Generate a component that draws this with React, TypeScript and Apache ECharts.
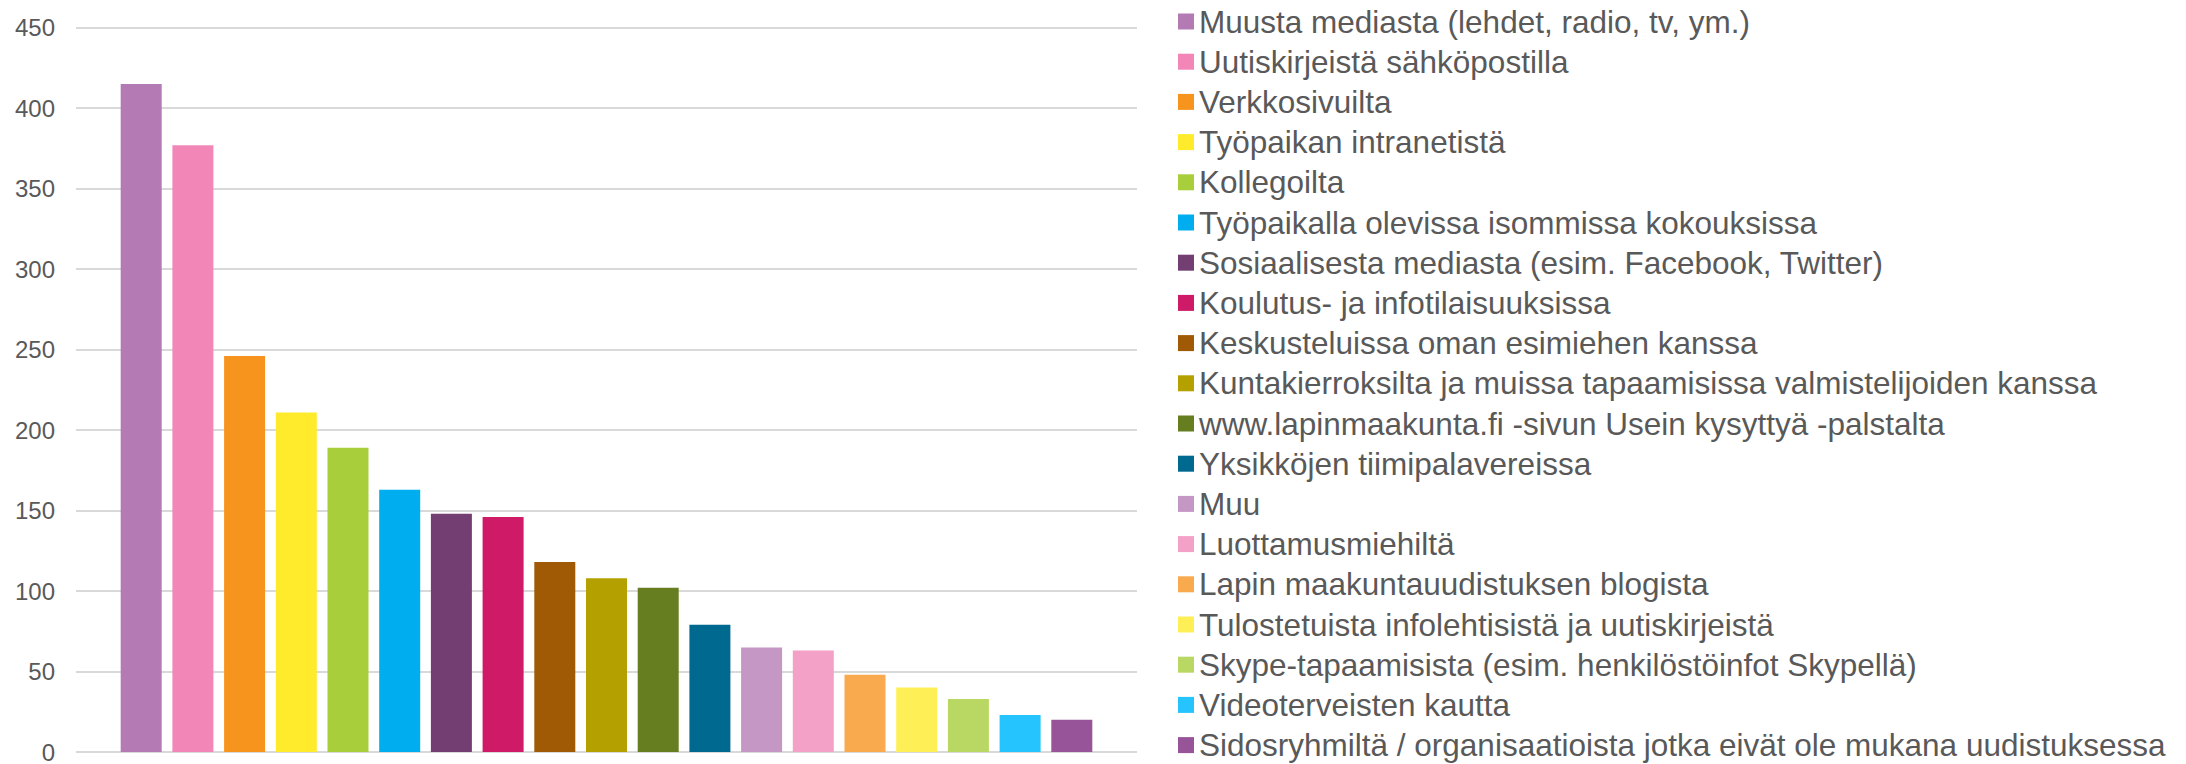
import React, { useEffect, useRef } from "react";
import * as echarts from "echarts";

const categories: string[] = [
  "Muusta mediasta (lehdet, radio, tv, ym.)",
  "Uutiskirjeistä sähköpostilla",
  "Verkkosivuilta",
  "Työpaikan intranetistä",
  "Kollegoilta",
  "Työpaikalla olevissa isommissa kokouksissa",
  "Sosiaalisesta mediasta (esim. Facebook, Twitter)",
  "Koulutus- ja infotilaisuuksissa",
  "Keskusteluissa oman esimiehen kanssa",
  "Kuntakierroksilta ja muissa tapaamisissa valmistelijoiden kanssa",
  "www.lapinmaakunta.fi -sivun Usein kysyttyä -palstalta",
  "Yksikköjen tiimipalavereissa",
  "Muu",
  "Luottamusmiehiltä",
  "Lapin maakuntauudistuksen blogista",
  "Tulostetuista infolehtisistä ja uutiskirjeistä",
  "Skype-tapaamisista (esim. henkilöstöinfot Skypellä)",
  "Videoterveisten kautta",
  "Sidosryhmiltä / organisaatioista jotka eivät ole mukana uudistuksessa",
];

const values: number[] = [415, 377, 246, 211, 189, 163, 148, 146, 118, 108, 102, 79, 65, 63, 48, 40, 33, 23, 20];

const colors: string[] = [
  "#B47AB3", "#F287B7", "#F7941E", "#FFEB2C", "#A8CE3B", "#00ADEE", "#733F73",
  "#CE1A67", "#A05A06", "#B4A100", "#667D20", "#00698F", "#C497C5", "#F4A1C7",
  "#F9A94E", "#FFEF57", "#B9D863", "#25C4FF", "#985498",
];

const yTicks = { min: 0, max: 450, interval: 50 };

const FONT = "'Liberation Sans', Arial, Helvetica, sans-serif";

export default function App() {
  const ref = useRef<HTMLDivElement>(null);
  useEffect(() => {
    if (!ref.current) return;
    const chart = echarts.init(ref.current, null, { renderer: "svg" });
    const series = categories.map((name, i) => ({
      name,
      type: "bar",
      data: [values[i]],
      barWidth: 41,
      barGap: "26.1%",
      itemStyle: { color: colors[i] },
    }));
    chart.setOption({
      animation: false,
      backgroundColor: "#ffffff",
      grid: { left: 76, right: 1049, top: 27.7, bottom: 9.5, containLabel: false },
      xAxis: {
        type: "category",
        data: [""],
        axisLine: { show: false },
        axisTick: { show: false },
        axisLabel: { show: false },
      },
      yAxis: {
        type: "value",
        min: yTicks.min,
        max: yTicks.max,
        interval: yTicks.interval,
        axisLine: { show: false },
        axisTick: { show: false },
        axisLabel: { fontSize: 24, color: "#595959", fontFamily: FONT, margin: 21 },
        splitLine: { lineStyle: { color: "#D9D9D9", width: 2 } },
      },
      legend: {
        orient: "vertical",
        left: 1178,
        top: 5.5,
        height: 790,
        padding: 0,
        icon: "rect",
        itemWidth: 16,
        itemHeight: 16,
        itemGap: 8.2,
        selectedMode: false,
        textStyle: { fontSize: 31.5, color: "#595959", fontFamily: FONT, lineHeight: 32 },
        data: categories,
      },
      series,
    });
    return () => chart.dispose();
  }, []);
  return (
    <div
      ref={ref}
      style={{ position: "absolute", left: 0, top: 0, width: 2186, height: 764 }}
    />
  );
}
